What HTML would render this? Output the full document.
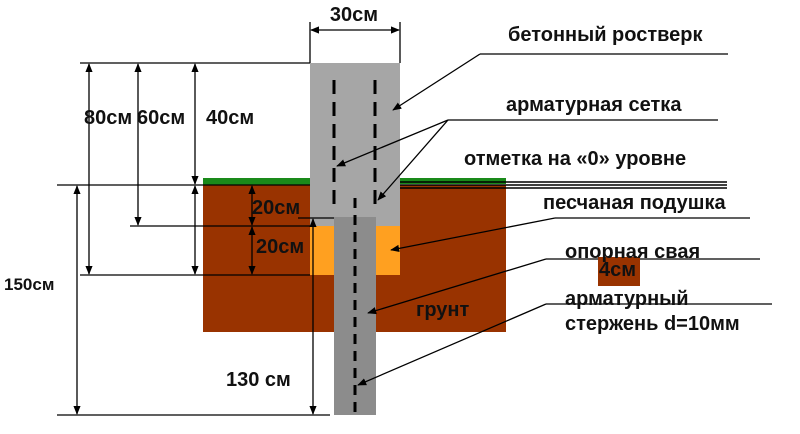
<!DOCTYPE html>
<html><head><meta charset="utf-8"><style>
html,body{margin:0;padding:0;background:#fff;}
svg{display:block;}
text{font-family:"Liberation Sans",sans-serif;font-weight:bold;fill:#111;}
</style></head><body>
<svg width="800" height="434" viewBox="0 0 800 434" xmlns="http://www.w3.org/2000/svg">
<defs>
<marker id="a" viewBox="0 0 10 10" refX="9" refY="5" markerWidth="7" markerHeight="7" orient="auto-start-reverse"><path d="M0,1 L10,5 L0,9 z" fill="#000"/></marker>
</defs>
<rect x="203" y="185" width="303" height="147" fill="#993300"/>
<rect x="203" y="178" width="107" height="7" fill="#1a8a1a"/>
<rect x="400" y="178" width="106" height="6" fill="#1a8a1a"/>
<line x1="400" y1="182" x2="727" y2="182" stroke="#000" stroke-width="1.5"/>
<line x1="400" y1="185" x2="727" y2="185" stroke="#000" stroke-width="1.5"/>
<line x1="400" y1="188" x2="727" y2="188" stroke="#000" stroke-width="1.5"/>
<rect x="310" y="226" width="90" height="49" fill="#ffa020"/>
<rect x="310" y="63" width="90" height="163" fill="#a6a6a6"/>
<rect x="334" y="217" width="42" height="198" fill="#8c8c8c"/>
<line x1="334" y1="80" x2="334" y2="212" stroke="#000" stroke-width="3" stroke-dasharray="14,8"/>
<line x1="375" y1="80" x2="375" y2="212" stroke="#000" stroke-width="3" stroke-dasharray="14,8"/>
<line x1="355" y1="198" x2="355" y2="415" stroke="#000" stroke-width="3" stroke-dasharray="10,7"/>
<g stroke="#000" stroke-width="1.3" fill="none">
<line x1="80" y1="63" x2="310" y2="63"/>
<line x1="310" y1="22" x2="310" y2="63"/>
<line x1="400" y1="22" x2="400" y2="63"/>
<line x1="311" y1="30" x2="399" y2="30" marker-start="url(#a)" marker-end="url(#a)"/>
<line x1="57" y1="185" x2="310" y2="185"/>
<line x1="130" y1="226" x2="310" y2="226"/>
<line x1="80" y1="275" x2="310" y2="275"/>
<line x1="57" y1="415" x2="330" y2="415"/>
<line x1="298" y1="218" x2="334" y2="218"/>
<line x1="89" y1="64" x2="89" y2="274" marker-start="url(#a)" marker-end="url(#a)"/>
<line x1="138" y1="64" x2="138" y2="225" marker-start="url(#a)" marker-end="url(#a)"/>
<line x1="195" y1="64" x2="195" y2="184" marker-start="url(#a)" marker-end="url(#a)"/>
<line x1="195" y1="186" x2="195" y2="274" marker-start="url(#a)" marker-end="url(#a)"/>
<line x1="252" y1="186" x2="252" y2="225" marker-start="url(#a)" marker-end="url(#a)"/>
<line x1="252" y1="227" x2="252" y2="274" marker-start="url(#a)" marker-end="url(#a)"/>
<line x1="77" y1="186" x2="77" y2="414" marker-start="url(#a)" marker-end="url(#a)"/>
<line x1="313" y1="219" x2="313" y2="414" marker-start="url(#a)" marker-end="url(#a)"/>
<line x1="480" y1="54" x2="728" y2="54"/>
<line x1="480" y1="54" x2="393" y2="110" marker-end="url(#a)"/>
<line x1="448" y1="120" x2="718" y2="120"/>
<line x1="448" y1="120" x2="337" y2="166" marker-end="url(#a)"/>
<line x1="448" y1="120" x2="378" y2="200" marker-end="url(#a)"/>
<line x1="555" y1="218" x2="750" y2="218"/>
<line x1="555" y1="218" x2="391" y2="250" marker-end="url(#a)"/>
<line x1="546" y1="259" x2="760" y2="259"/>
<line x1="546" y1="259" x2="368" y2="313" marker-end="url(#a)"/>
<line x1="546" y1="304" x2="772" y2="304"/>
<line x1="546" y1="304" x2="358" y2="385" marker-end="url(#a)"/>
</g>
<rect x="598" y="257" width="42" height="29" fill="#993300"/>
<g font-size="20">
<text x="354" y="21" text-anchor="middle">30см</text>
<text x="84" y="124">80см</text>
<text x="137" y="124">60см</text>
<text x="206" y="124">40см</text>
<text x="4" y="290" font-size="17">150см</text>
<text x="252" y="214">20см</text>
<text x="256" y="253">20см</text>
<text x="226" y="386">130 см</text>
<text x="508" y="41">бетонный ростверк</text>
<text x="506" y="111">арматурная  сетка</text>
<text x="464" y="165">отметка на «0»  уровне</text>
<text x="543" y="209">песчаная подушка</text>
<text x="565" y="258">опорная свая</text>
<text x="599" y="276">4см</text>
<text x="416" y="316">грунт</text>
<text x="565" y="305">арматурный</text>
<text x="565" y="330">стержень d=10мм</text>
</g>
</svg>
</body></html>
